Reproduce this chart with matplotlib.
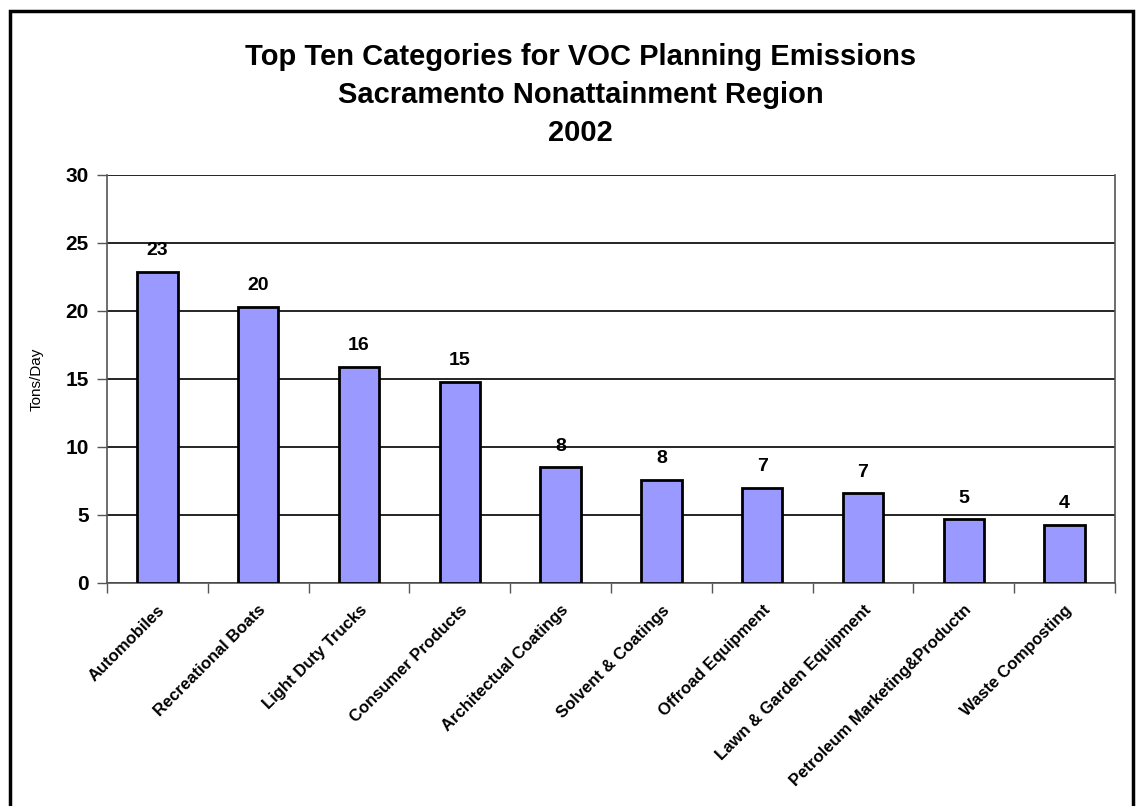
import numpy as np
import matplotlib
matplotlib.use('Agg')
import matplotlib.pyplot as plt
from matplotlib.patches import Rectangle

plt.rcParams['font.family'] = ['Liberation Sans', 'DejaVu Sans']

# VOC planning emissions, tons per day
categories = ['Automobiles', 'Recreational Boats', 'Light Duty Trucks', 'Consumer Products',
              'Architectual Coatings', 'Solvent & Coatings', 'Offroad Equipment',
              'Lawn & Garden Equipment', 'Petroleum Marketing&Productn', 'Waste Composting']
tons_per_day = [22.9, 20.3, 15.9, 14.8, 8.5, 7.6, 7.0, 6.6, 4.7, 4.3]
y_ticks = [0, 5, 10, 15, 20, 25, 30]

fig = plt.figure(figsize=(11.36, 8.06), dpi=100)
ax = fig.add_axes([0.0942, 0.2767, 0.8873, 0.5062])

x = np.arange(len(categories))
ax.bar(x, tons_per_day, width=0.4, color='#9999FF', edgecolor='black', linewidth=2, zorder=3)

for xi, v in zip(x, tons_per_day):
    ax.annotate(f'{v:.0f}', (xi, v), xytext=(0, 9), textcoords='offset points',
                ha='center', va='bottom', fontsize=14, fontweight='bold')

ax.set_xlim(-0.5, len(categories) - 0.5)
ax.set_ylim(0, 30)
ax.set_yticks(y_ticks)
ax.set_yticklabels([str(t) for t in y_ticks], fontsize=15, fontweight='bold')
ax.yaxis.grid(True, color='black', linewidth=1.2, zorder=0)
ax.set_axisbelow(True)

# category ticks sit between the bars, labels under the bar centres
ax.set_xticks(np.arange(len(categories) + 1) - 0.5)
ax.set_xticklabels([])
ax.set_xticks(x, minor=True)
ax.set_xticklabels(categories, minor=True, rotation=45, ha='right', rotation_mode='anchor',
                   fontsize=12, fontweight='bold')
ax.tick_params(axis='x', which='major', length=7, width=1, color='#555555', direction='out')
ax.tick_params(axis='x', which='minor', length=0, pad=14)
ax.tick_params(axis='y', length=7, width=1, color='#555555', pad=6)

for side in ['left', 'right', 'bottom']:
    ax.spines[side].set_color('#555555')
    ax.spines[side].set_linewidth(1.2)
ax.spines['top'].set_visible(False)

ax.set_ylabel('Tons/Day', fontsize=11, labelpad=16)

fig.text(0.511, 0.947, 'Top Ten Categories for VOC Planning Emissions\nSacramento Nonattainment Region\n2002',
         ha='center', va='top', fontsize=21, fontweight='bold', linespacing=1.45)

# outer frame around the figure
fig.patches.append(Rectangle((10 / 1136, -0.05), 1123 / 1136, 1 - 11 / 806 + 0.05,
                             transform=fig.transFigure, fill=False, edgecolor='black',
                             linewidth=2.5))

fig.savefig('out.png', dpi=100)
